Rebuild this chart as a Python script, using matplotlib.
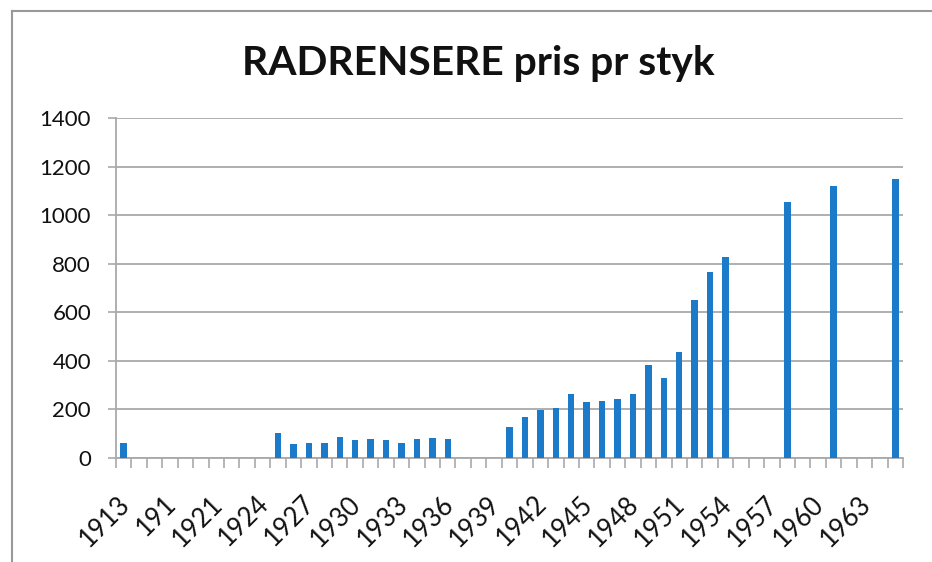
import matplotlib
matplotlib.use("Agg")
import matplotlib.pyplot as plt
from matplotlib.lines import Line2D
from matplotlib.ticker import FixedLocator, NullFormatter
from matplotlib.transforms import ScaledTranslation

plt.rcParams['font.family'] = ['Lato', 'DejaVu Sans']

# category labels as written in the sheet (only every third one is shown)
years = ["1913", "1914", "1915", "191", "1919", "1920", "1921", "1922", "1923",
         "1924", "1925", "1926", "1927", "1928", "1929", "1930", "1931", "1932",
         "1933", "1934", "1935", "1936", "1937", "1938", "1939", "1940", "1941",
         "1942", "1943", "1944", "1945", "1946", "1947", "1948", "1949", "1950",
         "1951", "1952", "1953", "1954", "1955", "1956", "1957", "1958", "1959",
         "1960", "1961", "1962", "1963", "1964", "1965"]

# price per piece, 0 where there is no value
prices = [62, 0, 0, 0, 0, 0, 0, 0, 0,
          0, 100, 56, 62, 62, 87, 72, 79, 72,
          62, 79, 83, 79, 0, 0, 0, 128, 169,
          197, 204, 262, 228, 235, 242, 262, 382, 329,
          436, 652, 767, 829, 0, 0, 0, 1056, 0,
          0, 1120, 0, 0, 0, 1148]

yticks = [0, 200, 400, 600, 800, 1000, 1200, 1400]

bar_color = '#1b7bc8'
grid_color = '#a9a9a9'

fig = plt.figure(figsize=(9.32, 5.62), dpi=100)
ax = fig.add_axes([116 / 932, 1 - 457.7 / 562, 787 / 932, 339.5 / 562])

x = list(range(len(years)))
ax.bar(x, prices, width=0.42, color=bar_color, zorder=3)

ax.set_xlim(-0.5, len(years) - 0.5)
ax.set_ylim(0, 1400)

# y axis
ax.set_yticks(yticks)
ax.yaxis.grid(True, color=grid_color, linewidth=1.3, zorder=0)
ax.tick_params(axis='y', length=6, width=1.2, color=grid_color, pad=12,
               labelsize=16, labelcolor='#111111')

# x axis: ticks between categories, labels every third category
shown = x[::3]
ax.set_xticks(shown)
ax.set_xticklabels([years[i] for i in shown], rotation=45, ha='right',
                   va='top', fontsize=18.5, color='#111111')
ax.tick_params(axis='x', which='major', length=0, pad=24)
shift = ScaledTranslation(0.11, 0, fig.dpi_scale_trans)
for lbl in ax.get_xticklabels():
    lbl.set_transform(lbl.get_transform() + shift)
ax.xaxis.set_minor_locator(FixedLocator([i - 0.5 for i in range(len(years) + 1)]))
ax.xaxis.set_minor_formatter(NullFormatter())
ax.tick_params(axis='x', which='minor', length=7, width=1.2, color=grid_color)

for side in ['top', 'right']:
    ax.spines[side].set_visible(False)
for side in ['left', 'bottom']:
    ax.spines[side].set_color(grid_color)
    ax.spines[side].set_linewidth(1.3)

fig.text(478 / 932, 1 - 75 / 562, "RADRENSERE pris pr styk", ha='center',
         va='baseline', fontsize=29.3, fontweight='bold', color='#111111')

# scanned chart frame (left and top edges)
fig.add_artist(Line2D([11.5 / 932, 11.5 / 932], [0, 1 - 11 / 562],
                      transform=fig.transFigure, color='#999999', lw=1.5))
fig.add_artist(Line2D([11.5 / 932, 1], [1 - 11 / 562, 1 - 11 / 562],
                      transform=fig.transFigure, color='#999999', lw=1.5))

fig.savefig("out.png", dpi=100)
